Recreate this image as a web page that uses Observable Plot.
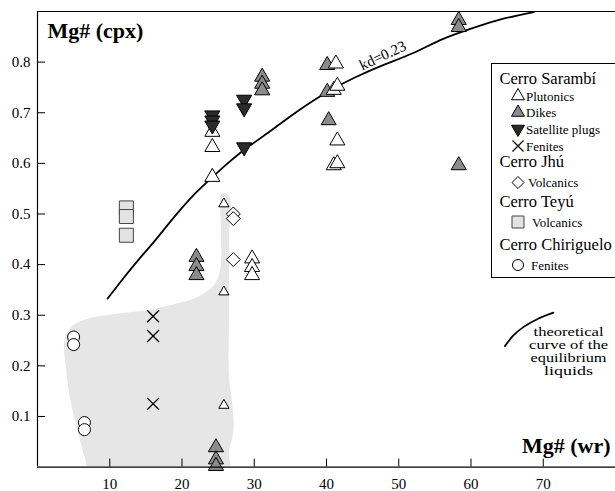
<!DOCTYPE html>
<html><head><meta charset="utf-8">
<script src="https://cdn.jsdelivr.net/npm/d3@7"></script>
<script src="https://cdn.jsdelivr.net/npm/@observablehq/plot@0.6"></script>
<style>
body{margin:0;background:#fff;}
#chart svg{display:block;}
#chart svg, #chart svg text {font-family: 'Liberation Serif', 'Times New Roman', serif !important;}
</style></head><body><div id="chart"></div>
<script>
// ---- data (Mg# whole rock, Mg# cpx) ----
const sarambiPlutonics = [
  {wr:24.2,cpx:0.662},{wr:24.2,cpx:0.632},{wr:24.2,cpx:0.573},
  {wr:41.3,cpx:0.797},{wr:41.0,cpx:0.745},{wr:41.5,cpx:0.753},{wr:41.5,cpx:0.645},
  {wr:41.0,cpx:0.596},{wr:41.5,cpx:0.600},
  {wr:29.7,cpx:0.412},{wr:29.7,cpx:0.395},{wr:29.7,cpx:0.379}
];
const sarambiPlutonicsSmall = [
  {wr:25.8,cpx:0.520},{wr:25.8,cpx:0.346},{wr:25.8,cpx:0.122}
];
const sarambiDikes = [
  {wr:31.1,cpx:0.771},{wr:31.1,cpx:0.757},{wr:31.1,cpx:0.744},
  {wr:40.1,cpx:0.794},{wr:40.1,cpx:0.741},{wr:40.3,cpx:0.685},
  {wr:58.3,cpx:0.883},{wr:58.3,cpx:0.869},{wr:58.3,cpx:0.596},
  {wr:22.0,cpx:0.415},{wr:22.0,cpx:0.397},{wr:22.0,cpx:0.379},
  {wr:24.7,cpx:0.039},{wr:24.7,cpx:0.015},{wr:24.7,cpx:0.002}
];
const sarambiPlugs = [
  {wr:24.2,cpx:0.695},{wr:24.2,cpx:0.685},{wr:24.2,cpx:0.675},
  {wr:28.6,cpx:0.726},{wr:28.6,cpx:0.709},{wr:28.6,cpx:0.632}
];
const sarambiFenites = [
  {wr:16.0,cpx:0.298},{wr:16.0,cpx:0.259},{wr:16.0,cpx:0.125}
];
const jhuVolcanics = [
  {wr:27.1,cpx:0.500},{wr:27.1,cpx:0.491},{wr:27.1,cpx:0.410}
];
const teyuVolcanics = [
  {wr:12.3,cpx:0.512},{wr:12.3,cpx:0.495},{wr:12.3,cpx:0.458}
];
const chiriFenites = [
  {wr:5.0,cpx:0.257},{wr:5.0,cpx:0.242},{wr:6.5,cpx:0.088},{wr:6.5,cpx:0.074}
];
// theoretical kd = 0.23 curve
const kdCurve = [
  {wr:9.7,cpx:0.333},{wr:12,cpx:0.375},{wr:14,cpx:0.410},{wr:16,cpx:0.443},
  {wr:18,cpx:0.478},{wr:20,cpx:0.512},{wr:22,cpx:0.543},{wr:24,cpx:0.570},
  {wr:26,cpx:0.596},{wr:28,cpx:0.620},{wr:30,cpx:0.641},{wr:33,cpx:0.672},
  {wr:36,cpx:0.703},{wr:40,cpx:0.740},{wr:44,cpx:0.770},{wr:48,cpx:0.795},
  {wr:52,cpx:0.818},{wr:56,cpx:0.845},{wr:60,cpx:0.866},{wr:64,cpx:0.884},
  {wr:68.7,cpx:0.899}
];
// small sample curve next to the note
const noteCurve = [
  {wr:64.7,cpx:0.239},{wr:65.8,cpx:0.259},{wr:67.3,cpx:0.277},{wr:69.3,cpx:0.293},{wr:71.4,cpx:0.305}
];
// grey field outline
const greyField = [
  {wr:25.5,cpx:0.540},{wr:26.5,cpx:0.537},{wr:26.5,cpx:0.45},{wr:26.5,cpx:0.30},
  {wr:26.5,cpx:0.18},{wr:27.0,cpx:0.12},{wr:27.1,cpx:0.07},{wr:26.5,cpx:0.03},
  {wr:26.3,cpx:-0.02},{wr:7.5,cpx:-0.02},{wr:6.6,cpx:0.016},{wr:5.5,cpx:0.076},
  {wr:4.6,cpx:0.128},{wr:3.9,cpx:0.201},{wr:3.7,cpx:0.247},{wr:4.6,cpx:0.276},
  {wr:6.9,cpx:0.293},{wr:11.0,cpx:0.303},{wr:15.6,cpx:0.311},{wr:19.3,cpx:0.323},
  {wr:22.1,cpx:0.336},{wr:24.4,cpx:0.359},{wr:25.3,cpx:0.392},{wr:25.4,cpx:0.47}
];
const xTicks = [10,20,30,40,50,60,70];
const yTicks = [0.1,0.2,0.3,0.4,0.5,0.6,0.7,0.8];
const legendHeadings = ["Cerro Sarambí","Cerro Jhú","Cerro Teyú","Cerro Chiriguelo"];
const legendItems = ["Plutonics","Dikes","Satellite plugs","Fenites","Volcanics","Volcanics","Fenites"];
const yTitle = "Mg# (cpx)";
const xTitle = "Mg# (wr)";
const kdLabel = "kd=0.23";
const noteLines = ["theoretical","curve of the","equilibrium","liquids"];

// ---- symbols ----
const triangleDown = {draw(context, size) {
  const y = -Math.sqrt(size / (Math.sqrt(3) * 3));
  context.moveTo(0, -y * 2);
  context.lineTo(Math.sqrt(3) * y, y);
  context.lineTo(-Math.sqrt(3) * y, y);
  context.closePath();
}};

const FONT = "'Liberation Serif', 'Times New Roman', serif";
const xy = {x: "wr", y: "cpx"};
const tx = {fontFamily: FONT, text: d => d};

const chart = Plot.plot({
  width: 615, height: 491,
  marginLeft: 37, marginTop: 11, marginBottom: 24.4, marginRight: 0,
  x: {domain: [0, 80], label: null},
  y: {domain: [0, 0.9], label: null},
  style: {fontFamily: FONT, fontSize: "15px", background: "white", color: "black"},
  marks: [
    Plot.line(greyField, {...xy, curve: "catmull-rom-closed", fill: "#e6e6e6", stroke: "none", clip: true}),
    Plot.line(kdCurve, {...xy, curve: "natural", stroke: "black", strokeWidth: 1.8}),
    Plot.line(noteCurve, {...xy, curve: "natural", stroke: "black", strokeWidth: 1.8}),
    Plot.dot(teyuVolcanics, {...xy, symbol: "square", r: 7.9, fill: "#e3e3e3", stroke: "#444", strokeWidth: 1}),
    Plot.dot(chiriFenites, {...xy, symbol: "circle", r: 6, fill: "white", stroke: "black", strokeWidth: 1}),
    Plot.dot(sarambiFenites, {...xy, symbol: "times", r: 5.5, stroke: "black", strokeWidth: 1.3}),
    Plot.dot(jhuVolcanics, {...xy, symbol: "diamond2", r: 6.3, fill: "white", stroke: "black", strokeWidth: 1}),
    Plot.dot(sarambiDikes, {...xy, symbol: "triangle", r: 5.6, fill: "#8c8c8c", stroke: "black", strokeWidth: 1}),
    Plot.dot(sarambiPlutonics, {...xy, symbol: "triangle", r: 5.6, fill: "white", stroke: "black", strokeWidth: 1}),
    Plot.dot(sarambiPlutonicsSmall, {...xy, symbol: "triangle", r: 3.8, fill: "white", stroke: "black", strokeWidth: 1}),
    Plot.dot(sarambiPlugs, {...xy, symbol: triangleDown, r: 5.6, fill: "#2b2b2b", stroke: "black", strokeWidth: 1}),
    Plot.ruleY([0, 0.9], {stroke: "black", strokeWidth: 1.2}),
    Plot.ruleX([0], {stroke: "black", strokeWidth: 1.2}),
    Plot.axisX({ticks: xTicks, tickSize: -8, tickPadding: 19, fontSize: 15, fontFamily: FONT, label: null}),
    Plot.axisY({ticks: yTicks, tickSize: -8, tickPadding: 15, fontSize: 15, fontFamily: FONT, label: null}),
    Plot.text([kdLabel], {...tx, x: 47.8, y: 0.813, rotate: -25, fontSize: 15}),
    Plot.text([noteLines.join("\n")], {...tx, x: 73.5, y: 0.228, lineHeight: 1.12, fontSize: 11.5, textAnchor: "middle"}),
    Plot.text([yTitle], {...tx, frameAnchor: "top-left", dx: 10, dy: 11, textAnchor: "start", lineAnchor: "top", fontWeight: "bold", fontSize: 22}),
    Plot.text([xTitle], {...tx, frameAnchor: "bottom-right", dx: -5, dy: -30, textAnchor: "end", lineAnchor: "top", fontWeight: "bold", fontSize: 22})
  ]
});

const svg = d3.select(chart);
svg.attr("font-family", FONT);

// stretch the note lines horizontally to the widths seen in the figure
const noteWidths = [70, 79, 76, 49];
svg.selectAll("text").each(function() {
  const spans = d3.select(this).selectAll("tspan");
  if (spans.size() === noteLines.length) {
    spans.each(function(d, i) {
      d3.select(this).attr("textLength", noteWidths[i]).attr("lengthAdjust", "spacingAndGlyphs");
    });
  }
});

// ---- legend box (inside the plot frame) ----
const lg = svg.append("g").attr("font-family", FONT).attr("fill", "black").attr("text-anchor", "start");
lg.append("rect").attr("x", 491.5).attr("y", 63.5).attr("width", 125).attr("height", 214)
  .attr("fill", "white").attr("stroke", "black").attr("stroke-width", 1);
const headY = [84, 167, 207, 250];
legendHeadings.forEach((t, i) => {
  lg.append("text").attr("x", 499.5).attr("y", headY[i]).attr("font-size", 16.5).text(t);
});
const itemSpec = [
  {sym: d3.symbolTriangle, size: 73, fill: "white", stroke: "black", y: 96, tx: 526},
  {sym: d3.symbolTriangle, size: 73, fill: "#8c8c8c", stroke: "black", y: 112.5, tx: 526},
  {sym: triangleDown, size: 73, fill: "#2b2b2b", stroke: "black", y: 129, tx: 526},
  {sym: d3.symbolTimes, size: 81, fill: "none", stroke: "black", y: 146, tx: 526},
  {sym: d3.symbolDiamond2, size: 92, fill: "white", stroke: "black", y: 182.5, tx: 528},
  {sym: d3.symbolSquare, size: 144, fill: "#e3e3e3", stroke: "#444", y: 222, tx: 532},
  {sym: d3.symbolCircle, size: 95, fill: "white", stroke: "black", y: 265, tx: 531}
];
legendItems.forEach((t, i) => {
  const s = itemSpec[i];
  lg.append("path").attr("transform", `translate(518,${s.y})`)
    .attr("d", d3.symbol(s.sym, s.size)())
    .attr("fill", s.fill).attr("stroke", s.stroke).attr("stroke-width", s.sym === d3.symbolTimes ? 1.3 : 1);
  lg.append("text").attr("x", s.tx).attr("y", s.y + 4.5).attr("font-size", 13).text(t);
});

document.getElementById("chart").appendChild(chart);
</script>
</body></html>
